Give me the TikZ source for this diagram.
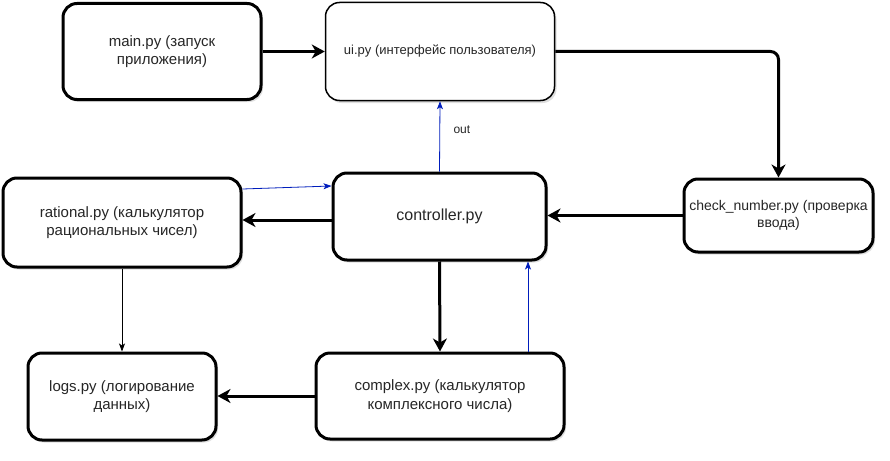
\documentclass[tikz,border=0pt]{standalone}
\usepackage{fontspec}
\setmainfont{Liberation Sans}
\usepackage{tikz}
\usetikzlibrary{arrows.meta}
\usetikzlibrary{shadows}
\definecolor{callblue}{HTML}{001DBC}

\begin{document}
\begin{tikzpicture}[x=1pt, y=-1pt,
  module/.style={draw, line width=3pt, rounded corners=14pt, fill=white,
       align=center, inner sep=0pt, text=black!85,
       font=\fontsize{15}{18.5}\selectfont,
       drop shadow={shadow xshift=2pt, shadow yshift=-2.5pt, opacity=0.25}},
  thinmodule/.style={module, line width=1.5pt, font=\fontsize{13}{16}\selectfont},
  flow/.style={line width=3pt, -{Stealth[length=13pt, width=14pt, inset=4pt]}},
  call/.style={line width=0.8pt, -{Stealth[length=8pt, width=6pt, inset=2pt]}},
  back/.style={call, color=callblue}]

\useasboundingbox (0,0) rectangle (890,460);

\draw (162, 51.5)
  node[module, minimum width=198pt, minimum height=96pt] (main)
  {main.py (запуск\\приложения)};
\draw (440, 51.5)
  node[thinmodule, minimum width=229pt, minimum height=98pt] (ui)
  {ui.py (интерфейс пользователя)};
\draw (439.5, 216.5)
  node[module, minimum width=213pt, minimum height=87pt,
       font=\fontsize{16}{19}\selectfont] (controller)
  {controller.py};
\draw (122, 222.5)
  node[module, minimum width=238pt, minimum height=89pt] (rational)
  {rational.py (калькулятор\\рациональных чисел)};
\draw (778.5, 215.5)
  node[module, minimum width=189pt, minimum height=73pt,
       font=\fontsize{14}{17.5}\selectfont] (check)
  {check\_number.py (проверка\\ввода)};
\draw (122, 396.5)
  node[module, minimum width=188pt, minimum height=87pt] (logs)
  {logs.py (логирование\\данных)};
\draw (440, 396)
  node[module, minimum width=248pt, minimum height=86pt] (complex)
  {complex.py (калькулятор\\комплексного числа)};

\draw[flow] (main.east) -- (main.east -| ui.west);
\draw[flow, rounded corners=8pt] (ui.east) -| (check.north);
\draw[flow] (check.west) -- (check.west -| controller.east);
\draw[flow] ([yshift=-3.5pt]controller.west) -- ([yshift=-3.5pt]controller.west -| rational.east);
\draw[back] ([yshift=33.5pt]rational.east) -- ([yshift=30.5pt]controller.west);
\draw[back] (controller.north) -- node[pos=0.6, right, xshift=10pt, text=black!85,
  font=\fontsize{12}{14}\selectfont] (outlabel) {out} (ui.south);
\draw[flow] (controller.south) -- (complex.north);
\draw[back] ([xshift=88pt]complex.north) -- ([xshift=88pt]complex.north |- controller.south);
\draw[call] (rational.south) -- (logs.north);
\draw[flow] (complex.west) -- (complex.west -| logs.east);
\end{tikzpicture}
\end{document}
